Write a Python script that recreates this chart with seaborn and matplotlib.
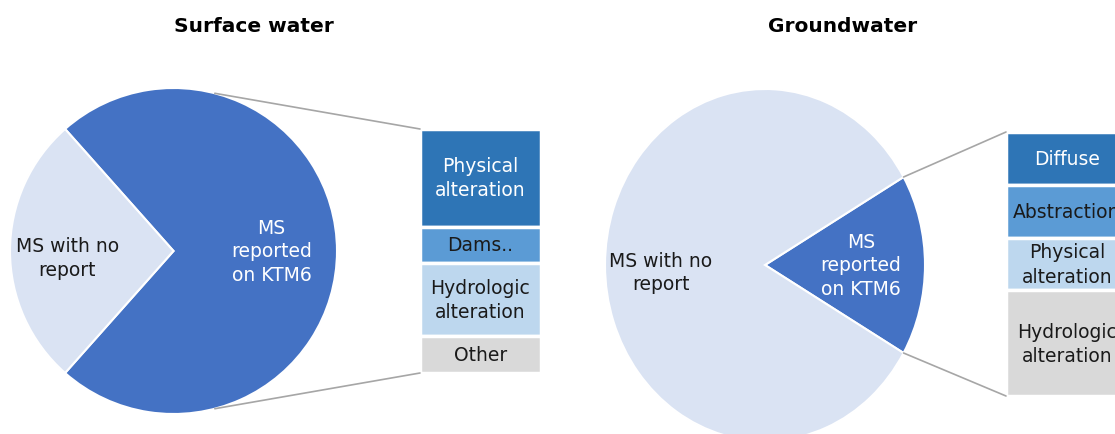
import numpy as np
import matplotlib
matplotlib.use("Agg")
import matplotlib.pyplot as plt
import seaborn as sns
from matplotlib.patches import ConnectionPatch

# ---- data ----
titles = ["Surface water", "Groundwater"]
pie_labels = ["MS\nreported\non KTM6", "MS with no\nreport"]
sw_pie = [19, 7]
gw_pie = [4, 20]

sw_bar_labels = ["Physical\nalteration", "Dams..", "Hydrologic\nalteration", "Other"]
sw_bar = [8, 3, 6, 3]
gw_bar_labels = ["Diffuse", "Abstraction", "Physical\nalteration", "Hydrologic\nalteration"]
gw_bar = [1, 1, 1, 2]

pie_colors = ["#4472C4", "#DAE3F3"]
bar_colors = ["#2E75B6", "#5B9BD5", "#BDD7EE", "#D9D9D9"]
line_color = "#A6A6A6"
dark_text = "#1a1a1a"

sns.set_theme(style="white")
plt.rcParams["font.family"] = ["DejaVu Sans"]

W, H = 1115, 435
fig = plt.figure(figsize=(W / 100, H / 100), dpi=100)
fig.patch.set_facecolor("white")


def box(x0, y0, x1, y1):
    # pixel box (top-left origin) -> figure fraction rect
    return [x0 / W, 1 - y1 / H, (x1 - x0) / W, (y1 - y0) / H]


panels = [
    dict(title=titles[0], pie=sw_pie, bar=sw_bar, bar_labels=sw_bar_labels,
         pie_box=(10, 89, 337, 415), bar_box=(420, 130, 541, 374), title_x=254),
    dict(title=titles[1], pie=gw_pie, bar=gw_bar, bar_labels=gw_bar_labels,
         pie_box=(605, 90, 925, 442), bar_box=(1006, 133, 1128, 397), title_x=843),
]

for p in panels:
    fig.text(p["title_x"] / W, 1 - 26 / H, p["title"], ha="center", va="center",
             fontsize=14.5, fontweight="bold", color="black")

    # pie
    ax_pie = fig.add_axes(box(*p["pie_box"]))
    vals = p["pie"]
    frac = vals[0] / sum(vals)
    start = -180 * frac
    wedges, texts = ax_pie.pie(vals, colors=pie_colors, startangle=start,
                               labels=pie_labels, labeldistance=0.6,
                               wedgeprops=dict(edgecolor="white", linewidth=1.5),
                               textprops=dict(fontsize=13.5, linespacing=1.3))
    for t, c, dx, dy in zip(texts, ["white", dark_text], [0.0, -0.05], [0.0, -0.04]):
        t.set_color(c)
        t.set_ha("center")
        t.set_va("center")
        t.set_multialignment("center")
        x, y = t.get_position()
        t.set_position((x + dx, y + dy))
    ax_pie.set_aspect("auto")
    ax_pie.set_xlim(-1, 1)
    ax_pie.set_ylim(-1, 1)
    ax_pie.axis("off")

    # stacked bar
    ax_bar = fig.add_axes(box(*p["bar_box"]))
    bvals = p["bar"]
    total = sum(bvals)
    bottoms = np.concatenate([[0], np.cumsum(bvals)[:-1]])
    for i, (v, b, lab) in enumerate(zip(bvals, bottoms, p["bar_labels"])):
        ax_bar.bar(0, v, bottom=b, width=1, color=bar_colors[i],
                   edgecolor="white", linewidth=2.5)
        ax_bar.text(0, b + v / 2, lab, ha="center", va="center", fontsize=13.5,
                    color="white" if i == 0 else dark_text, linespacing=1.35)
    ax_bar.set_xlim(-0.5, 0.5)
    ax_bar.set_ylim(total, 0)
    ax_bar.axis("off")

    # connector lines
    corners = [(-0.5, 0), (-0.5, total)]
    if frac < 0.5:
        a0 = np.deg2rad(start)
        a1 = np.deg2rad(start + 360 * frac)
        pts = [(np.cos(a1), np.sin(a1)), (np.cos(a0), np.sin(a0))]
    else:
        pts = []
        for k, c in enumerate(corners):
            disp = ax_bar.transData.transform(c)
            cx, cy = ax_pie.transData.inverted().transform(disp)
            d = np.hypot(cx, cy)
            phi = np.arctan2(cy, cx)
            th = phi + (np.arccos(1 / d) - 0.08) * (1 if k == 0 else -1)
            pts.append((np.cos(th), np.sin(th)))
    for pt, c in zip(pts, corners):
        con = ConnectionPatch(xyA=pt, coordsA=ax_pie.transData, xyB=c,
                              coordsB=ax_bar.transData, color=line_color, lw=1.2)
        fig.add_artist(con)

fig.savefig("out.png", dpi=100, facecolor="white")
